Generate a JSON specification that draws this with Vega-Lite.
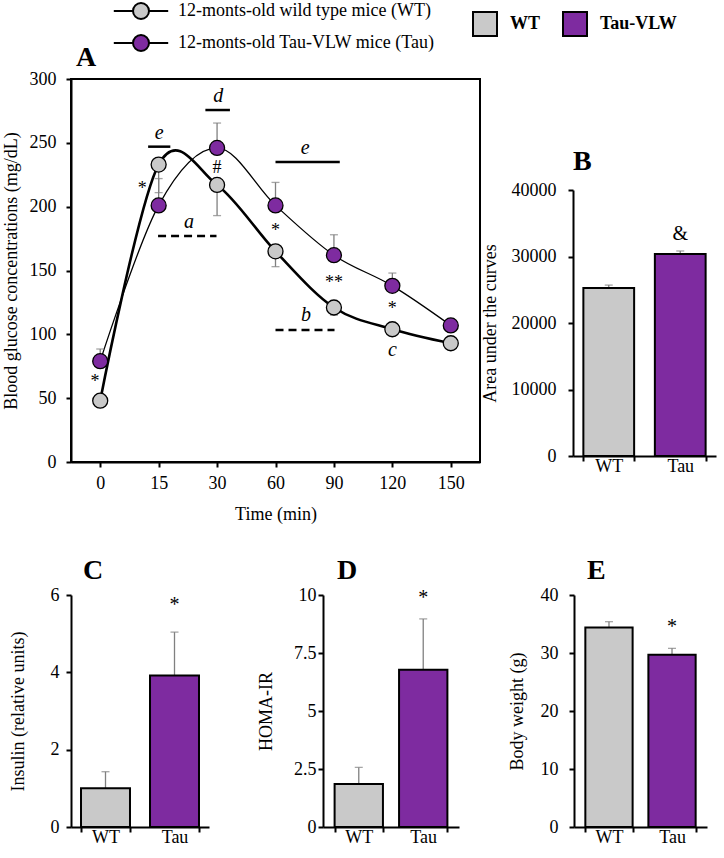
{
  "$schema": "https://vega.github.io/schema/vega-lite/v6.json",
  "padding": {"left": 1, "top": 2, "right": 5, "bottom": 0},
  "background": "white",
  "config": {
    "font": "Liberation Serif",
    "view": {"stroke": null},
    "axis": {"labelFont": "Liberation Serif", "titleFont": "Liberation Serif", "labelFontSize": 18, "titleFontSize": 18, "titleFontWeight": "normal", "labelColor": "black", "titleColor": "black", "domainColor": "black", "tickColor": "black", "domainWidth": 2, "tickWidth": 2, "tickSize": 5, "grid": false, "labelOverlap": false, "labelFlush": false},
    "title": {"font": "Liberation Serif", "fontSize": 28, "fontWeight": "bold", "color": "black", "anchor": "start", "frame": "group", "baseline": "alphabetic"},
    "legend": {"labelFont": "Liberation Serif", "labelColor": "black", "labelFontSize": 18}
  },
  "datasets": {
    "glucose": [
      {"grp": "12-monts-old wild type mice (WT)", "time": "0", "idx": 0, "value": 48, "cap": 48},
      {"grp": "12-monts-old wild type mice (WT)", "time": "15", "idx": 1, "value": 233, "cap": 211},
      {"grp": "12-monts-old wild type mice (WT)", "time": "30", "idx": 2, "value": 217, "cap": 193},
      {"grp": "12-monts-old wild type mice (WT)", "time": "60", "idx": 3, "value": 165, "cap": 153},
      {"grp": "12-monts-old wild type mice (WT)", "time": "90", "idx": 4, "value": 121, "cap": 115},
      {"grp": "12-monts-old wild type mice (WT)", "time": "120", "idx": 5, "value": 104, "cap": 99},
      {"grp": "12-monts-old wild type mice (WT)", "time": "150", "idx": 6, "value": 93, "cap": 90},
      {"grp": "12-monts-old Tau-VLW mice (Tau)", "time": "0", "idx": 0, "value": 79, "cap": 88.5},
      {"grp": "12-monts-old Tau-VLW mice (Tau)", "time": "15", "idx": 1, "value": 201, "cap": 222},
      {"grp": "12-monts-old Tau-VLW mice (Tau)", "time": "30", "idx": 2, "value": 246, "cap": 265.5},
      {"grp": "12-monts-old Tau-VLW mice (Tau)", "time": "60", "idx": 3, "value": 201, "cap": 219},
      {"grp": "12-monts-old Tau-VLW mice (Tau)", "time": "90", "idx": 4, "value": 162, "cap": 178},
      {"grp": "12-monts-old Tau-VLW mice (Tau)", "time": "120", "idx": 5, "value": 138, "cap": 148},
      {"grp": "12-monts-old Tau-VLW mice (Tau)", "time": "150", "idx": 6, "value": 107, "cap": 112}
    ],
    "aLetters": [
      {"idx": 1.01, "value": 258, "label": "e"},
      {"idx": 2.02, "value": 287, "label": "d"},
      {"idx": 3.51, "value": 246, "label": "e"},
      {"idx": 1.52, "value": 188, "label": "a"},
      {"idx": 3.52, "value": 115, "label": "b"},
      {"idx": 5.0, "value": 88, "label": "c"}
    ],
    "aSymbols": [
      {"idx": -0.09, "value": 63, "label": "*"},
      {"idx": 0.72, "value": 214, "label": "*"},
      {"idx": 2.0, "value": 230, "label": "#"},
      {"idx": 3.0, "value": 181, "label": "*"},
      {"idx": 4.0, "value": 140, "label": "**"},
      {"idx": 5.0, "value": 120, "label": "*"}
    ],
    "aSolid": [
      {"idx": 0.82, "idx2": 1.2, "value": 247},
      {"idx": 1.8, "idx2": 2.22, "value": 275.7},
      {"idx": 3.0, "idx2": 4.1, "value": 235}
    ],
    "aDashed": [
      {"idx": 0.99, "idx2": 1.99, "value": 177},
      {"idx": 3.0, "idx2": 4.01, "value": 103.4}
    ],
    "auc": [{"group": "WT", "value": 25250, "cap": 25700}, {"group": "Tau", "value": 30380, "cap": 30830}],
    "aucSig": [{"group": "Tau", "value": 33400, "label": "&"}],
    "insulin": [{"group": "WT", "value": 1.0, "cap": 1.43}, {"group": "Tau", "value": 3.92, "cap": 5.04}],
    "insulinSig": [{"group": "Tau", "value": 5.74, "label": "*"}],
    "homa": [{"group": "WT", "value": 1.85, "cap": 2.57}, {"group": "Tau", "value": 6.78, "cap": 8.97}],
    "homaSig": [{"group": "Tau", "value": 9.85, "label": "*"}],
    "weight": [{"group": "WT", "value": 34.4, "cap": 35.4}, {"group": "Tau", "value": 29.7, "cap": 30.8}],
    "weightSig": [{"group": "Tau", "value": 34.4, "label": "*"}]
  },
  "spacing": 33,
  "vconcat": [
    {
      "spacing": 0,
      "hconcat": [
        {
          "width": 409, "height": 383,
          "title": {"text": "A", "dx": 5, "offset": -2},
          "view": {"stroke": "black", "strokeWidth": 2},
          "layer": [
            {
              "data": {"name": "glucose"},
              "transform": [{"filter": {"field": "grp", "equal": "12-monts-old wild type mice (WT)"}}],
              "mark": {"type": "line", "interpolate": "cardinal", "color": "black", "strokeWidth": 2.6},
              "encoding": {
                "x": {"field": "idx", "type": "quantitative", "title": "Time (min)", "scale": {"domain": [-0.5, 6.5], "nice": false, "zero": false},
                      "axis": {"title": "Time (min)", "values": [0, 1, 2, 3, 4, 5, 6], "labelExpr": "['0','15','30','60','90','120','150'][datum.value]", "labelPadding": 7, "titlePadding": 13}},
                "y": {"field": "value", "type": "quantitative", "title": "Blood glucose concentrations (mg/dL)", "scale": {"domain": [0, 300], "nice": false},
                      "axis": {"title": "Blood glucose concentrations (mg/dL)", "values": [0, 25, 50, 75, 100, 125, 150, 175, 200, 225, 250, 275, 300], "labelExpr": "datum.value % 50 === 0 ? datum.label : ''", "labelPadding": 10, "titlePadding": 9}}
              }
            },
            {
              "data": {"name": "glucose"},
              "transform": [{"filter": {"field": "grp", "equal": "12-monts-old Tau-VLW mice (Tau)"}}],
              "mark": {"type": "line", "interpolate": "cardinal", "color": "black", "strokeWidth": 1.3},
              "encoding": {
                "x": {"field": "idx", "type": "quantitative", "title": "Time (min)", "scale": {"domain": [-0.5, 6.5], "nice": false, "zero": false}},
                "y": {"field": "value", "type": "quantitative", "title": "Blood glucose concentrations (mg/dL)", "scale": {"domain": [0, 300], "nice": false}}
              }
            },
            {
              "data": {"name": "glucose"},
              "mark": {"type": "rule", "color": "#808080", "strokeWidth": 1.3},
              "encoding": {
                "x": {"field": "idx", "type": "quantitative", "title": "Time (min)", "scale": {"domain": [-0.5, 6.5], "nice": false, "zero": false}},
                "y": {"field": "value", "type": "quantitative", "title": "Blood glucose concentrations (mg/dL)", "scale": {"domain": [0, 300], "nice": false}},
                "y2": {"field": "cap"}
              }
            },
            {
              "data": {"name": "glucose"},
              "mark": {"type": "tick", "orient": "horizontal", "size": 8, "thickness": 1.3, "color": "#808080"},
              "encoding": {
                "x": {"field": "idx", "type": "quantitative", "title": "Time (min)", "scale": {"domain": [-0.5, 6.5], "nice": false, "zero": false}},
                "y": {"field": "cap", "type": "quantitative", "title": "Blood glucose concentrations (mg/dL)", "scale": {"domain": [0, 300], "nice": false}}
              }
            },
            {
              "data": {"name": "glucose"},
              "mark": {"type": "point", "shape": "circle", "filled": true, "size": 225, "stroke": "black", "strokeWidth": 1.3, "opacity": 1},
              "encoding": {
                "x": {"field": "idx", "type": "quantitative", "title": "Time (min)", "scale": {"domain": [-0.5, 6.5], "nice": false, "zero": false}},
                "y": {"field": "value", "type": "quantitative", "title": "Blood glucose concentrations (mg/dL)", "scale": {"domain": [0, 300], "nice": false}},
                "fill": {"field": "grp", "type": "nominal",
                         "scale": {"domain": ["12-monts-old wild type mice (WT)", "12-monts-old Tau-VLW mice (Tau)"], "range": ["#c9c9c9", "#7e2ba0"]},
                         "legend": {"orient": "none", "legendX": 61, "legendY": -77, "title": null,
                                    "symbolType": "M-3.4,0L-1,0M1,0L3.4,0M1,0C1,0.5523,0.5523,1,0,1C-0.5523,1,-1,0.5523,-1,0C-1,-0.5523,-0.5523,-1,0,-1C0.5523,-1,1,-0.5523,1,0Z",
                                    "symbolSize": 256, "symbolStrokeColor": "black", "symbolStrokeWidth": 2, "symbolOpacity": 1,
                                    "labelFontSize": 18, "labelOffset": 28, "rowPadding": 8, "labelLimit": 400}}
              }
            },
            {
              "data": {"name": "aSolid"},
              "mark": {"type": "rule", "color": "black", "strokeWidth": 2.5},
              "encoding": {
                "x": {"field": "idx", "type": "quantitative", "title": "Time (min)", "scale": {"domain": [-0.5, 6.5], "nice": false, "zero": false}},
                "x2": {"field": "idx2"},
                "y": {"field": "value", "type": "quantitative", "title": "Blood glucose concentrations (mg/dL)", "scale": {"domain": [0, 300], "nice": false}}
              }
            },
            {
              "data": {"name": "aDashed"},
              "mark": {"type": "rule", "color": "black", "strokeWidth": 2.5, "strokeDash": [8, 5]},
              "encoding": {
                "x": {"field": "idx", "type": "quantitative", "title": "Time (min)", "scale": {"domain": [-0.5, 6.5], "nice": false, "zero": false}},
                "x2": {"field": "idx2"},
                "y": {"field": "value", "type": "quantitative", "title": "Blood glucose concentrations (mg/dL)", "scale": {"domain": [0, 300], "nice": false}}
              }
            },
            {
              "data": {"name": "aLetters"},
              "mark": {"type": "text", "font": "Liberation Serif", "fontSize": 20, "fontStyle": "italic", "color": "black", "baseline": "middle"},
              "encoding": {
                "x": {"field": "idx", "type": "quantitative", "title": "Time (min)", "scale": {"domain": [-0.5, 6.5], "nice": false, "zero": false}},
                "y": {"field": "value", "type": "quantitative", "title": "Blood glucose concentrations (mg/dL)", "scale": {"domain": [0, 300], "nice": false}},
                "text": {"field": "label"}
              }
            },
            {
              "data": {"name": "aSymbols"},
              "mark": {"type": "text", "font": "Liberation Serif", "fontSize": 18, "color": "black", "baseline": "middle"},
              "encoding": {
                "x": {"field": "idx", "type": "quantitative", "title": "Time (min)", "scale": {"domain": [-0.5, 6.5], "nice": false, "zero": false}},
                "y": {"field": "value", "type": "quantitative", "title": "Blood glucose concentrations (mg/dL)", "scale": {"domain": [0, 300], "nice": false}},
                "text": {"field": "label"}
              }
            }
          ]
        },
        {
          "spacing": 0,
          "vconcat": [
            {"width": 143, "height": 69, "data": {"values": []}, "mark": "point"},
            {
              "width": 143, "height": 266,
              "title": {"text": "B", "dx": 0, "offset": 5},
              "layer": [
                {
                  "data": {"name": "auc"},
                  "mark": {"type": "rule", "color": "#808080", "strokeWidth": 1.3},
                  "encoding": {
                    "x": {"field": "group", "type": "nominal", "sort": ["WT", "Tau"], "scale": {"paddingInner": 0.29, "paddingOuter": 0.145}},
                    "y": {"field": "value", "type": "quantitative", "title": "Area under the curves", "scale": {"domain": [0, 40000], "nice": false}},
                    "y2": {"field": "cap"}
                  }
                },
                {
                  "data": {"name": "auc"},
                  "mark": {"type": "tick", "orient": "horizontal", "size": 8, "thickness": 1.3, "color": "#808080"},
                  "encoding": {
                    "x": {"field": "group", "type": "nominal", "sort": ["WT", "Tau"], "scale": {"paddingInner": 0.29, "paddingOuter": 0.145}},
                    "y": {"field": "cap", "type": "quantitative", "title": "Area under the curves", "scale": {"domain": [0, 40000], "nice": false}}
                  }
                },
                {
                  "data": {"name": "auc"},
                  "mark": {"type": "bar", "stroke": "black", "strokeWidth": 2},
                  "encoding": {
                    "x": {"field": "group", "type": "nominal", "sort": ["WT", "Tau"], "scale": {"paddingInner": 0.29, "paddingOuter": 0.145},
                          "axis": {"title": null, "labelAngle": 0, "labelAlign": "center", "tickBand": "extent", "labelPadding": 5}},
                    "y": {"field": "value", "type": "quantitative", "title": "Area under the curves", "scale": {"domain": [0, 40000], "nice": false},
                          "axis": {"title": "Area under the curves", "values": [0, 5000, 10000, 15000, 20000, 25000, 30000, 35000, 40000], "format": "d", "labelExpr": "datum.value % 10000 === 0 ? datum.label : ''", "labelPadding": 12, "titlePadding": 12}},
                    "color": {"field": "group", "type": "nominal", "scale": {"domain": ["WT", "Tau"], "range": ["#c9c9c9", "#7e2ba0"]},
                              "legend": {"orient": "none", "legendX": 401, "legendY": -68, "direction": "horizontal", "title": null,
                                         "symbolType": "square", "symbolSize": 576, "symbolStrokeColor": "black", "symbolStrokeWidth": 2, "symbolOpacity": 1,
                                         "labelFontWeight": "bold", "labelFontSize": 18, "labelOffset": 12, "columnPadding": 18,
                                         "labelExpr": "datum.label === 'Tau' ? 'Tau-VLW' : datum.label"}}
                  }
                },
                {
                  "data": {"name": "aucSig"},
                  "mark": {"type": "text", "font": "Liberation Serif", "fontSize": 20, "color": "black", "baseline": "middle"},
                  "encoding": {
                    "x": {"field": "group", "type": "nominal", "sort": ["WT", "Tau"], "scale": {"paddingInner": 0.29, "paddingOuter": 0.145}},
                    "y": {"field": "value", "type": "quantitative", "title": "Area under the curves", "scale": {"domain": [0, 40000], "nice": false}},
                    "text": {"field": "label"}
                  }
                }
              ]
            }
          ]
        }
      ]
    },
    {
      "spacing": 49,
      "hconcat": [
        {
          "spacing": 48,
          "hconcat": [
            {
              "width": 138, "height": 232,
              "title": {"text": "C", "dx": 12, "offset": 1},
              "layer": [
                {
                  "data": {"name": "insulin"},
                  "mark": {"type": "rule", "color": "#808080", "strokeWidth": 1.3},
                  "encoding": {
                    "x": {"field": "group", "type": "nominal", "sort": ["WT", "Tau"], "scale": {"paddingInner": 0.29, "paddingOuter": 0.145}},
                    "y": {"field": "value", "type": "quantitative", "title": "Insulin (relative units)", "scale": {"domain": [0, 6], "nice": false}},
                    "y2": {"field": "cap"}
                  }
                },
                {
                  "data": {"name": "insulin"},
                  "mark": {"type": "tick", "orient": "horizontal", "size": 8, "thickness": 1.3, "color": "#808080"},
                  "encoding": {
                    "x": {"field": "group", "type": "nominal", "sort": ["WT", "Tau"], "scale": {"paddingInner": 0.29, "paddingOuter": 0.145}},
                    "y": {"field": "cap", "type": "quantitative", "title": "Insulin (relative units)", "scale": {"domain": [0, 6], "nice": false}}
                  }
                },
                {
                  "data": {"name": "insulin"},
                  "mark": {"type": "bar", "stroke": "black", "strokeWidth": 2},
                  "encoding": {
                    "x": {"field": "group", "type": "nominal", "sort": ["WT", "Tau"], "scale": {"paddingInner": 0.29, "paddingOuter": 0.145},
                          "axis": {"title": null, "labelAngle": 0, "labelAlign": "center", "tickBand": "extent", "labelPadding": 5}},
                    "y": {"field": "value", "type": "quantitative", "title": "Insulin (relative units)", "scale": {"domain": [0, 6], "nice": false},
                          "axis": {"title": "Insulin (relative units)", "values": [0, 1, 2, 3, 4, 5, 6], "labelExpr": "datum.value % 2 === 0 ? datum.label : ''", "labelPadding": 7, "titlePadding": 23}},
                    "color": {"field": "group", "type": "nominal", "scale": {"domain": ["WT", "Tau"], "range": ["#c9c9c9", "#7e2ba0"]}}
                  }
                },
                {
                  "data": {"name": "insulinSig"},
                  "mark": {"type": "text", "font": "Liberation Serif", "fontSize": 20, "color": "black", "baseline": "middle"},
                  "encoding": {
                    "x": {"field": "group", "type": "nominal", "sort": ["WT", "Tau"], "scale": {"paddingInner": 0.29, "paddingOuter": 0.145}},
                    "y": {"field": "value", "type": "quantitative", "title": "Insulin (relative units)", "scale": {"domain": [0, 6], "nice": false}},
                    "text": {"field": "label"}
                  }
                }
              ]
            },
            {
              "width": 136, "height": 232,
              "title": {"text": "D", "dx": 14, "offset": 1},
              "layer": [
                {
                  "data": {"name": "homa"},
                  "mark": {"type": "rule", "color": "#808080", "strokeWidth": 1.3},
                  "encoding": {
                    "x": {"field": "group", "type": "nominal", "sort": ["WT", "Tau"], "scale": {"paddingInner": 0.25, "paddingOuter": 0.18}},
                    "y": {"field": "value", "type": "quantitative", "title": "HOMA-IR", "scale": {"domain": [0, 10], "nice": false}},
                    "y2": {"field": "cap"}
                  }
                },
                {
                  "data": {"name": "homa"},
                  "mark": {"type": "tick", "orient": "horizontal", "size": 8, "thickness": 1.3, "color": "#808080"},
                  "encoding": {
                    "x": {"field": "group", "type": "nominal", "sort": ["WT", "Tau"], "scale": {"paddingInner": 0.25, "paddingOuter": 0.18}},
                    "y": {"field": "cap", "type": "quantitative", "title": "HOMA-IR", "scale": {"domain": [0, 10], "nice": false}}
                  }
                },
                {
                  "data": {"name": "homa"},
                  "mark": {"type": "bar", "stroke": "black", "strokeWidth": 2},
                  "encoding": {
                    "x": {"field": "group", "type": "nominal", "sort": ["WT", "Tau"], "scale": {"paddingInner": 0.25, "paddingOuter": 0.18},
                          "axis": {"title": null, "labelAngle": 0, "labelAlign": "center", "tickBand": "extent", "labelPadding": 5}},
                    "y": {"field": "value", "type": "quantitative", "title": "HOMA-IR", "scale": {"domain": [0, 10], "nice": false},
                          "axis": {"title": "HOMA-IR", "values": [0, 1.25, 2.5, 3.75, 5, 6.25, 7.5, 8.75, 10], "format": ".2~f", "labelExpr": "datum.value % 2.5 === 0 ? datum.label : ''", "labelPadding": 2, "titlePadding": 18}},
                    "color": {"field": "group", "type": "nominal", "scale": {"domain": ["WT", "Tau"], "range": ["#c9c9c9", "#7e2ba0"]}}
                  }
                },
                {
                  "data": {"name": "homaSig"},
                  "mark": {"type": "text", "font": "Liberation Serif", "fontSize": 20, "color": "black", "baseline": "middle"},
                  "encoding": {
                    "x": {"field": "group", "type": "nominal", "sort": ["WT", "Tau"], "scale": {"paddingInner": 0.25, "paddingOuter": 0.18}},
                    "y": {"field": "value", "type": "quantitative", "title": "HOMA-IR", "scale": {"domain": [0, 10], "nice": false}},
                    "text": {"field": "label"}
                  }
                }
              ]
            }
          ]
        },
        {
          "width": 133, "height": 232,
          "title": {"text": "E", "dx": 13, "offset": 1},
          "layer": [
            {
              "data": {"name": "weight"},
              "mark": {"type": "rule", "color": "#808080", "strokeWidth": 1.3},
              "encoding": {
                "x": {"field": "group", "type": "nominal", "sort": ["WT", "Tau"], "scale": {"paddingInner": 0.25, "paddingOuter": 0.18}},
                "y": {"field": "value", "type": "quantitative", "title": "Body weight (g)", "scale": {"domain": [0, 40], "nice": false}},
                "y2": {"field": "cap"}
              }
            },
            {
              "data": {"name": "weight"},
              "mark": {"type": "tick", "orient": "horizontal", "size": 8, "thickness": 1.3, "color": "#808080"},
              "encoding": {
                "x": {"field": "group", "type": "nominal", "sort": ["WT", "Tau"], "scale": {"paddingInner": 0.25, "paddingOuter": 0.18}},
                "y": {"field": "cap", "type": "quantitative", "title": "Body weight (g)", "scale": {"domain": [0, 40], "nice": false}}
              }
            },
            {
              "data": {"name": "weight"},
              "mark": {"type": "bar", "stroke": "black", "strokeWidth": 2},
              "encoding": {
                "x": {"field": "group", "type": "nominal", "sort": ["WT", "Tau"], "scale": {"paddingInner": 0.25, "paddingOuter": 0.18},
                      "axis": {"title": null, "labelAngle": 0, "labelAlign": "center", "tickBand": "extent", "labelPadding": 5}},
                "y": {"field": "value", "type": "quantitative", "title": "Body weight (g)", "scale": {"domain": [0, 40], "nice": false},
                      "axis": {"title": "Body weight (g)", "values": [0, 5, 10, 15, 20, 25, 30, 35, 40], "labelExpr": "datum.value % 10 === 0 ? datum.label : ''", "labelPadding": 11, "titlePadding": 14}},
                "color": {"field": "group", "type": "nominal", "scale": {"domain": ["WT", "Tau"], "range": ["#c9c9c9", "#7e2ba0"]}}
              }
            },
            {
              "data": {"name": "weightSig"},
              "mark": {"type": "text", "font": "Liberation Serif", "fontSize": 20, "color": "black", "baseline": "middle"},
              "encoding": {
                "x": {"field": "group", "type": "nominal", "sort": ["WT", "Tau"], "scale": {"paddingInner": 0.25, "paddingOuter": 0.18}},
                "y": {"field": "value", "type": "quantitative", "title": "Body weight (g)", "scale": {"domain": [0, 40], "nice": false}},
                "text": {"field": "label"}
              }
            }
          ]
        }
      ]
    }
  ]
}
